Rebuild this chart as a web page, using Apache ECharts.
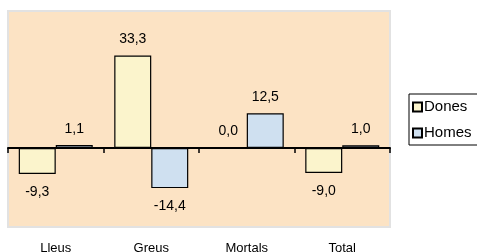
<!DOCTYPE html>
<html>
<head>
<meta charset="utf-8">
<script src="https://cdn.jsdelivr.net/npm/echarts@6/dist/echarts.min.js"></script>
<style>
  html, body { margin: 0; padding: 0; background: #fff; }
  #chart { width: 477px; height: 252px; }
</style>
</head>
<body>
<div id="chart"></div>
<script>
  // categories and values
  const categories = ['Lleus', 'Greus', 'Mortals', 'Total']
  const dones = [-9.3, 33.3, 0.0, -9.0]
  const homes = [1.1, -14.4, 12.5, 1.0]

  const fmt = (v) => v.toFixed(1).replace('.', ',')

  // label above positive bars, below negative ones
  const withLabels = (arr) => arr.map((v) => ({
    value: v,
    label: {
      position: v < 0 ? 'bottom' : 'top',
      distance: v < 0 ? 11 : 9
    }
  }))

  const chart = echarts.init(document.getElementById('chart'))
  const option = {
    animation: false,
    textStyle: { fontFamily: 'Liberation Sans, Arial, sans-serif' },
    grid: {
      left: 8,
      right: 87,
      top: 11,
      bottom: 25,
      outerBoundsMode: 'none',
      show: true,
      backgroundColor: '#FCE3C4',
      borderColor: '#E2E2E2',
      borderWidth: 2
    },
    legend: {
      orient: 'vertical',
      left: 409,
      top: 94,
      itemWidth: 9,
      itemHeight: 9,
      itemGap: 10,
      padding: [5, 20, 4, 3],
      backgroundColor: '#fff',
      borderColor: '#000',
      borderWidth: 1,
      icon: 'rect',
      textStyle: { fontSize: 15, lineHeight: 16, color: '#000', padding: [0, 0, 0, -3] },
      data: ['Dones', 'Homes']
    },
    xAxis: [
      {
        type: 'category',
        data: categories,
        axisLine: { onZero: true, lineStyle: { color: '#000', width: 2 } },
        axisTick: { show: true, length: 5, lineStyle: { color: '#000', width: 1.5 } },
        axisLabel: { show: false }
      },
      {
        type: 'category',
        data: categories,
        position: 'bottom',
        axisLine: { show: false, onZero: false },
        axisTick: { show: false },
        axisLabel: { margin: 15, fontSize: 13, color: '#000' }
      }
    ],
    yAxis: {
      type: 'value',
      min: -28.4,
      max: 49.3,
      show: false
    },
    series: [
      {
        name: 'Dones',
        type: 'bar',
        barWidth: 37,
        barGap: '0%',
        data: withLabels(dones),
        itemStyle: { color: '#FBF4CC', borderColor: '#000', borderWidth: 1.2 },
        label: { show: true, fontSize: 14, color: '#000', formatter: (p) => fmt(p.value) }
      },
      {
        name: 'Homes',
        type: 'bar',
        barWidth: 37,
        barGap: '0%',
        data: withLabels(homes),
        itemStyle: { color: '#CFE0F0', borderColor: '#000', borderWidth: 1.2 },
        label: { show: true, fontSize: 14, color: '#000', formatter: (p) => fmt(p.value) }
      }
    ]
  }
  chart.setOption(option)
</script>
</body>
</html>
